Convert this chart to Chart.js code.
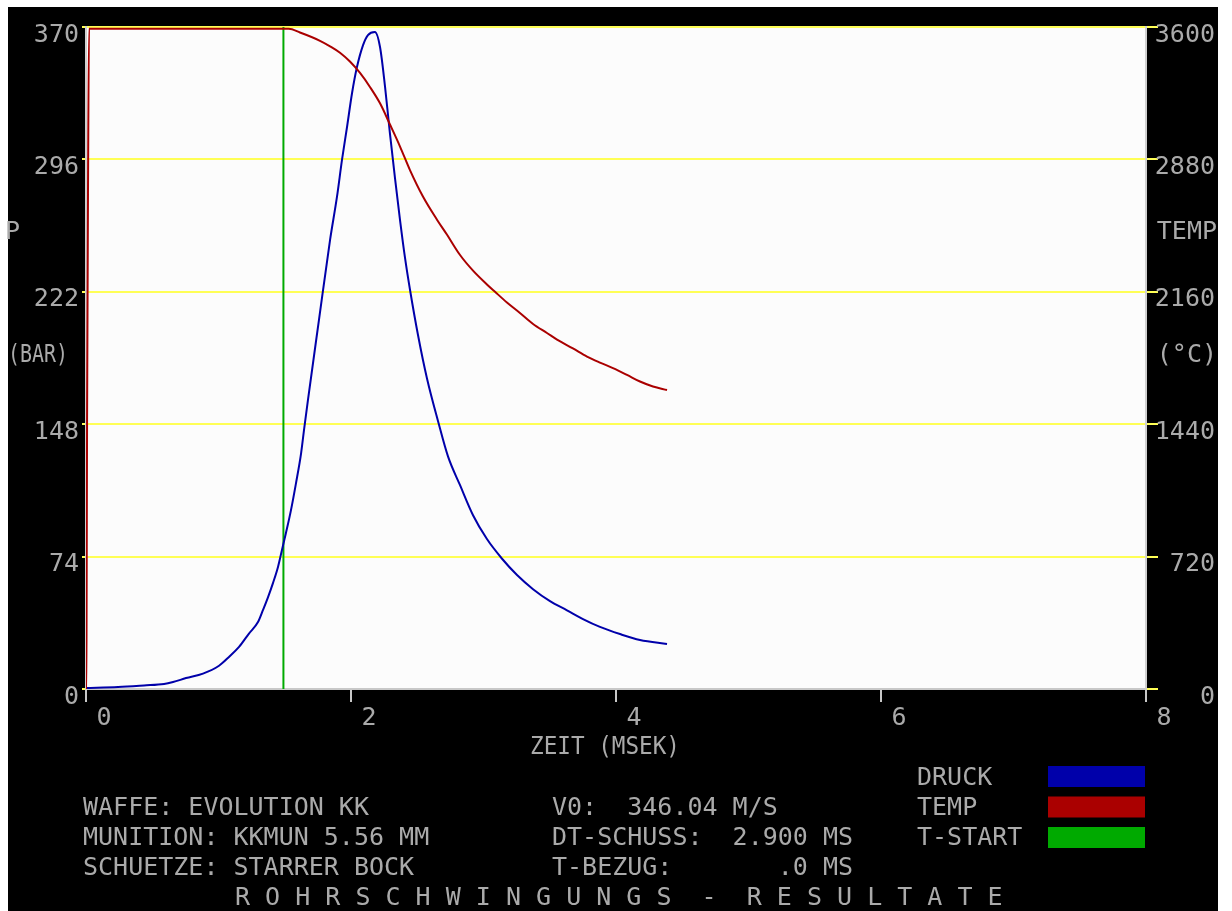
<!DOCTYPE html>
<html><head><meta charset="utf-8">
<script src="https://cdn.jsdelivr.net/npm/chart.js@4/dist/chart.umd.min.js"></script>
<style>html,body{margin:0;padding:0;background:#fff;overflow:hidden}#wrap{width:1232px;height:911px;position:relative}</style>
</head><body><div id="wrap"><canvas id="c" width="1232" height="911"></canvas></div>
<script>
// ---- data ----
const druckT = [0,0.242,0.438,0.589,0.657,0.755,0.883,1.004,1.079,1.155,1.23,1.298,1.336,1.374,1.411,1.449,1.479,1.509,1.547,1.585,1.623,1.645,1.675,1.758,1.842,1.894,1.932,1.97,2.008,2.045,2.091,2.128,2.181,2.219,2.257,2.294,2.332,2.37,2.408,2.445,2.506,2.574,2.657,2.732,2.823,2.921,3.026,3.14,3.253,3.374,3.502,3.63,3.751,3.879,4.03,4.181,4.385];
const druckP = [0.5,1.1,2.0,2.8,3.9,6.1,8.6,13.0,17.9,23.5,31.0,37.4,44.2,51.4,59.2,68.2,77.7,87.2,100,115.1,131.6,144.5,161.5,206.2,251,275,295.7,314.1,333.1,347.6,359.9,365.5,367.2,358.8,336.5,310.4,285.5,262.1,240.8,223.3,197.7,173.4,149.7,130,113.9,97.1,83.8,72.8,63.7,55.8,49.1,44.0,39.1,34.7,30.7,27.4,25.2];
const tempT = [0,0.004,0.008,0.015,0.023,1.53,1.615,1.766,1.842,1.917,1.992,2.068,2.143,2.219,2.294,2.37,2.445,2.543,2.649,2.725,2.823,2.921,3.026,3.087,3.177,3.275,3.374,3.479,3.555,3.675,3.781,3.879,3.977,4.083,4.181,4.279,4.385];
const tempC = [0,300,1440,2690,3590,3590,3570,3525,3495,3460,3412,3350,3274,3185,3070,2950,2822,2678,2552,2470,2360,2275,2200,2160,2102,2045,1985,1936,1900,1852,1808,1775,1745,1708,1672,1645,1626];
const tStartT = [1.49,1.49];
const tStartP = [0,370];
const pTicks = [0,74,148,222,296,370];
const tempTicks = [0,720,1440,2160,2880,3600];
const zeitTicks = [0,2,4,6,8];
const legendLabels = ['DRUCK','TEMP','T-START'];
const infoLeft = ['WAFFE: EVOLUTION KK','MUNITION: KKMUN 5.56 MM','SCHUETZE: STARRER BOCK'];
const infoMid = ['V0:  346.04 M/S','DT-SCHUSS:  2.900 MS','T-BEZUG:       .0 MS'];
const xTitle = 'ZEIT (MSEK)';
const yLeftTitle = ['P','(BAR)'];
const yRightTitle = ['TEMP','(°C)'];
const footer = 'R O H R S C H W I N G U N G S  -  R E S U L T A T E';

// ---- style ----
const GRAY = '#aaaaaa', YEL = '#ffff55', BLUE = '#0000aa', RED = '#aa0000', GREEN = '#00aa00';
const FONT = '"DejaVu Sans Mono", "Liberation Mono", monospace';
const FS = 25;

const dosPlugin = {
  id: 'dos',
  beforeDraw(chart) {
    const ctx = chart.ctx, a = chart.chartArea;
    ctx.save();
    ctx.fillStyle = '#ffffff'; ctx.fillRect(0,0,1232,911);
    ctx.fillStyle = '#000000'; ctx.fillRect(8,7,1210,904);
    ctx.fillStyle = '#fcfcfc'; ctx.fillRect(a.left, a.top, a.right - a.left, a.bottom - a.top);
    ctx.restore();
  },
  afterDraw(chart) {
    const ctx = chart.ctx;
    ctx.save();
    ctx.font = FS + 'px ' + FONT;
    ctx.fillStyle = GRAY;
    ctx.textBaseline = 'middle';
    ctx.textAlign = 'left';
    ctx.fillText(yLeftTitle[0], 5, 232);
    ctx.fillText(yLeftTitle[1], 8, 355, 60);
    ctx.textAlign = 'right';
    ctx.fillText(yRightTitle[0], 1217, 232);
    ctx.fillText(yRightTitle[1], 1217, 355);
    ctx.textAlign = 'center';
    ctx.fillText(xTitle, 605, 747, 150);
    ctx.textAlign = 'left';
    infoLeft.forEach((s,i) => ctx.fillText(s, 83, 808 + 30*i));
    infoMid.forEach((s,i) => ctx.fillText(s, 552, 808 + 30*i));
    const cols = [BLUE, RED, GREEN];
    legendLabels.forEach((s,i) => {
      ctx.fillStyle = GRAY;
      ctx.fillText(s, 917, 778 + 30*i);
      ctx.fillStyle = cols[i];
      ctx.fillRect(1048, 766 + 30.5*i, 97, 21);
    });
    ctx.fillStyle = GRAY;
    ctx.fillText(footer, 235, 898);
    ctx.restore();
  }
};

const tickFont = { family: FONT, size: FS };
const plain = v => String(v);

new Chart(document.getElementById('c'), {
  type: 'line',
  data: {
    datasets: [
      { label: legendLabels[1], data: tempT.map((t,i)=>({x:t,y:tempC[i]})), yAxisID: 'y1', borderColor: RED, borderWidth: 2, pointRadius: 0, cubicInterpolationMode: 'monotone', fill: false },
      { label: legendLabels[0], data: druckT.map((t,i)=>({x:t,y:druckP[i]})), yAxisID: 'y', borderColor: BLUE, borderWidth: 2, pointRadius: 0, cubicInterpolationMode: 'monotone', fill: false },
      { label: legendLabels[2], data: tStartT.map((t,i)=>({x:t,y:tStartP[i]})), yAxisID: 'y', borderColor: GREEN, borderWidth: 2, pointRadius: 0, tension: 0, fill: false }
    ]
  },
  options: {
    responsive: false, animation: false, devicePixelRatio: 1,
    layout: { padding: { top: 27, right: 17, bottom: 0, left: 0 } },
    plugins: { legend: { display: false }, tooltip: { enabled: false } },
    scales: {
      x: {
        type: 'linear', position: 'bottom', min: 0, max: 8,
        afterBuildTicks: s => { s.ticks = zeitTicks.map(v => ({ value: v })); },
        afterFit: s => { s.height = 222; },
        grid: { drawOnChartArea: false, drawTicks: true, tickLength: 13, color: '#c8c8c8', lineWidth: 2 },
        border: { display: true, color: '#c8c8c8', width: 2 },
        ticks: { color: GRAY, font: tickFont, labelOffset: 18, padding: 1, maxRotation: 0, autoSkip: false, callback: plain }
      },
      y: {
        type: 'linear', position: 'left', min: 0, max: 370,
        afterBuildTicks: s => { s.ticks = pTicks.map(v => ({ value: v })); },
        afterFit: s => { s.width = 86; },
        grid: { color: YEL, lineWidth: 2, tickLength: 4, drawTicks: true },
        border: { display: true, color: '#d0d0d0', width: 2 },
        ticks: { color: GRAY, font: tickFont, padding: 3, labelOffset: 8, autoSkip: false, callback: plain }
      },
      y1: {
        type: 'linear', position: 'right', min: 0, max: 3600,
        afterBuildTicks: s => { s.ticks = tempTicks.map(v => ({ value: v })); },
        afterFit: s => { s.width = 69; },
        grid: { drawOnChartArea: false, color: YEL, lineWidth: 2, tickLength: 12, drawTicks: true },
        border: { display: true, color: '#d0d0d0', width: 2 },
        ticks: { color: GRAY, font: tickFont, crossAlign: 'far', padding: 2, labelOffset: 8, autoSkip: false, callback: plain }
      }
    }
  },
  plugins: [dosPlugin]
});
</script>
</body></html>
